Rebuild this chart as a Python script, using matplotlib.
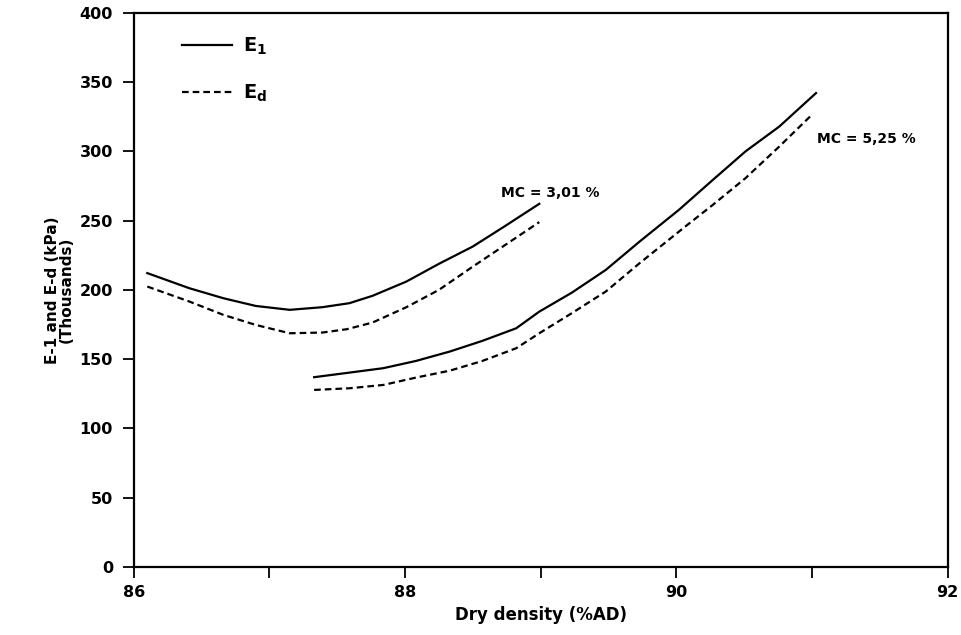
import matplotlib.pyplot as plt

plt.rcParams['font.family'] = ['DejaVu Sans']
plt.rcParams['font.weight'] = 'bold'
plt.rcParams['mathtext.default'] = 'bf'

# MC = 3,01 %
x_e1_a = [86.1, 86.41, 86.66, 86.9, 87.15, 87.39, 87.59, 87.76, 88.01,
          88.25, 88.5, 88.74, 88.99]
y_e1_a = [212.1, 201.2, 194.0, 188.4, 185.6, 187.5, 190.4, 195.7, 206.0,
          218.8, 231.3, 246.2, 262.1]
x_ed_a = [86.1, 86.41, 86.66, 86.9, 87.15, 87.39, 87.57, 87.76, 88.01,
          88.25, 88.5, 88.74, 88.99]
y_ed_a = [202.4, 191.6, 182.0, 174.7, 168.7, 169.2, 171.6, 176.4, 187.5,
          200.0, 216.8, 232.5, 248.9]

# MC = 5,25 %
x_e1_b = [87.33, 87.59, 87.84, 88.08, 88.33, 88.57, 88.82, 88.99, 89.23,
          89.48, 89.73, 90.02, 90.27, 90.51, 90.76, 91.03]
y_e1_b = [137.0, 140.3, 143.5, 148.7, 155.5, 163.2, 172.3, 184.3, 198.0,
          214.4, 234.9, 257.8, 279.4, 299.9, 317.9, 342.0]
x_ed_b = [87.33, 87.59, 87.84, 88.08, 88.33, 88.57, 88.82, 88.99, 89.23,
          89.48, 89.73, 90.07, 90.27, 90.51, 90.76, 91.0]
y_ed_b = [127.8, 129.0, 131.4, 136.7, 141.7, 148.7, 157.9, 168.7, 183.2,
          198.8, 219.3, 246.0, 261.4, 280.6, 303.5, 326.4]

x_ticks = [86, 88, 90, 92]
y_ticks = [0, 50, 100, 150, 200, 250, 300, 350, 400]

fig = plt.figure(figsize=(9.62, 6.35), dpi=100)
ax = fig.add_axes([0.139, 0.107, 0.846, 0.873])

dash = (0, (3, 1.8))
ax.plot(x_e1_a, y_e1_a, color='black', lw=1.6, label='E$_1$')
ax.plot(x_ed_a, y_ed_a, color='black', lw=1.6, ls=dash, label='E$_d$')
ax.plot(x_e1_b, y_e1_b, color='black', lw=1.6)
ax.plot(x_ed_b, y_ed_b, color='black', lw=1.6, ls=dash)

ax.text(88.71, 267, 'MC = 3,01 %', fontsize=10, fontweight='bold')
ax.text(91.04, 306, 'MC = 5,25 %', fontsize=10, fontweight='bold')

ax.set_xlim(86, 92)
ax.set_ylim(0, 400)
ax.set_xticks(x_ticks)
ax.set_xticks([87, 89, 91], minor=True)
ax.set_yticks(y_ticks)
ax.tick_params(which='both', direction='out', width=1.3, length=8,
               labelsize=11.5)
ax.tick_params(axis='y', pad=7)
ax.tick_params(axis='x', pad=5)
for s in ax.spines.values():
    s.set_linewidth(1.6)

ax.set_xlabel('Dry density (%AD)', fontsize=12, fontweight='bold',
              labelpad=4)
ax.set_ylabel('E-1 and E-d (kPa)\n(Thousands)', fontsize=11,
              fontweight='bold', linespacing=0.95, labelpad=4)

ax.legend(loc='upper left', bbox_to_anchor=(0.059, 0.958), frameon=False,
          borderpad=0, borderaxespad=0, handlelength=2.6,
          handletextpad=0.55, labelspacing=1.3,
          prop={'weight': 'bold', 'size': 14})

fig.savefig('out.png', dpi=100)
